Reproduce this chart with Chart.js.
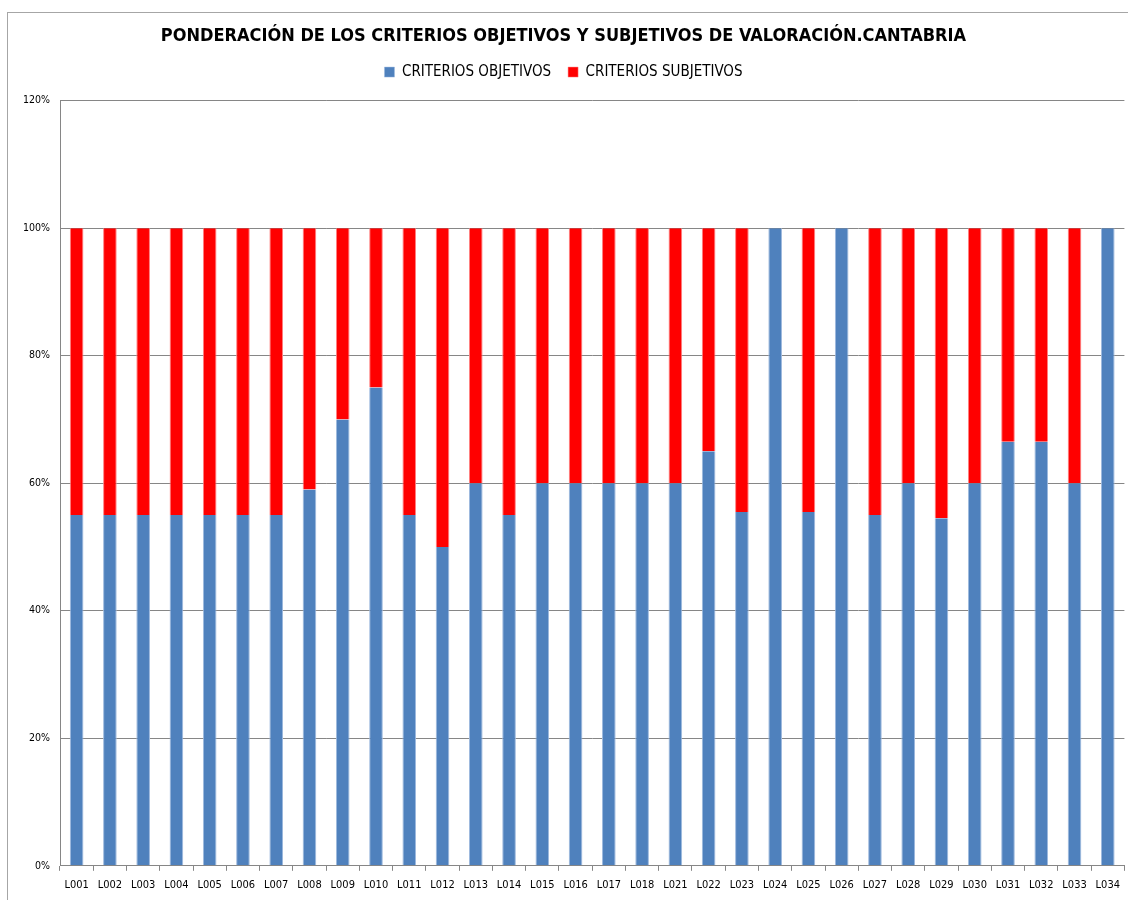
<!DOCTYPE html>
<html><head><meta charset="utf-8">
<script src="https://cdn.jsdelivr.net/npm/chart.js@4/dist/chart.umd.min.js"></script>
<style>
html,body{margin:0;padding:0;background:#fff;}
#wrap{position:relative;width:1128px;height:900px;}
#frame{position:absolute;left:7px;top:12px;right:0;bottom:0;border-left:1px solid #a6a6a6;border-top:1px solid #a6a6a6;}
canvas{position:absolute;left:0;top:0;}
</style></head><body>
<div id="wrap"><div id="frame"></div><canvas id="c" width="1128" height="900"></canvas></div>
<script>
const categories = ["L001","L002","L003","L004","L005","L006","L007","L008","L009","L010","L011","L012","L013","L014","L015","L016","L017","L018","L021","L022","L023","L024","L025","L026","L027","L028","L029","L030","L031","L032","L033","L034"];
const objetivos = [55,55,55,55,55,55,55,59,70,75,55,50,60,55,60,60,60,60,60,65,55.5,100,55.5,100,55,60,54.5,60,66.5,66.5,60,100];
const subjetivos = objetivos.map(v => +(100 - v).toFixed(1));
const yTicks = [0,20,40,60,80,100,120];
const FONT = "'DejaVu Sans Condensed','Liberation Sans',sans-serif";

const legendMargin = {id:'legendMargin', beforeInit(chart){
  const orig = chart.legend.fit;
  chart.legend.fit = function(){ orig.bind(chart.legend)(); this.height += 11; };
}};

new Chart(document.getElementById('c'), {
  type: 'bar',
  data: {
    labels: categories,
    datasets: [
      {label:'CRITERIOS OBJETIVOS', data: objetivos.map(v=>v/100), backgroundColor:'#4F81BD', borderColor:'#9DB9DE', borderWidth:{left:1,right:1,top:0,bottom:0}, borderSkipped:false},
      {label:'CRITERIOS SUBJETIVOS', data: subjetivos.map(v=>v/100), backgroundColor:'#FF0000', borderColor:'#FF8080', borderWidth:{left:1,right:1,top:0,bottom:0}, borderSkipped:false}
    ]
  },
  plugins:[legendMargin],
  options: {
    responsive:false, animation:false,
    layout:{padding:{left:0,right:1,top:22,bottom:0}},
    datasets:{bar:{categoryPercentage:1.0, barPercentage:0.41}},
    plugins:{
      title:{display:true, text:'PONDERACIÓN DE LOS CRITERIOS OBJETIVOS Y SUBJETIVOS DE VALORACIÓN.CANTABRIA', color:'#000', font:{family:FONT, size:18, weight:'bold'}, padding:{top:4,bottom:0}},
      legend:{display:true, labels:{color:'#000', font:{family:FONT, size:15}, boxWidth:10, boxHeight:10, padding:17}},
      tooltip:{enabled:false}
    },
    scales:{
      x:{stacked:true, offset:true,
        grid:{display:true, drawOnChartArea:false, drawTicks:true, tickLength:5, color:'#868686', offset:true},
        border:{display:true, color:'#868686'},
        ticks:{color:'#000', font:{family:FONT, size:11}, maxRotation:0, autoSkip:false, padding:8}
      },
      y:{stacked:true, min:0, max:1.2,
        afterBuildTicks: s => { s.ticks = yTicks.map(v=>({value:v/100})); },
        afterFit: s => { s.width = 60; },
        grid:{color:'#868686', drawTicks:false, lineWidth:1},
        border:{display:true, color:'#868686'},
        ticks:{color:'#000', font:{family:FONT, size:10.5}, padding:10, callback: v => Math.round(v*100)+'%'}
      }
    }
  }
});
</script></body></html>
